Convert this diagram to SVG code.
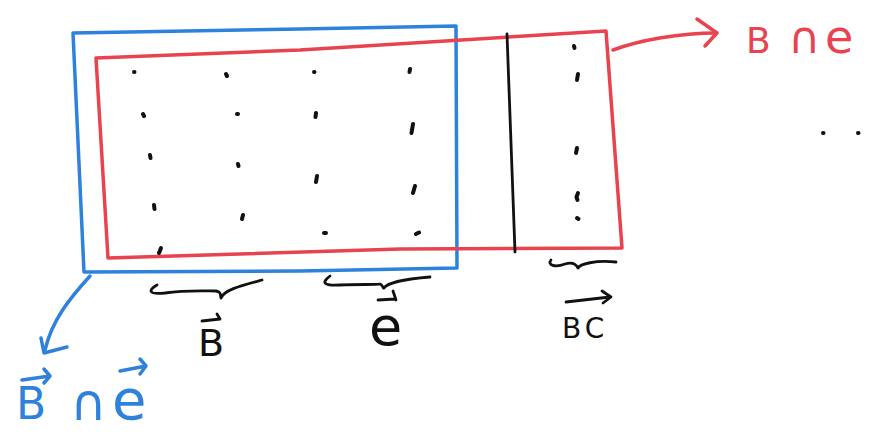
<svg xmlns="http://www.w3.org/2000/svg" width="876" height="435" viewBox="0 0 876 435">
<style>
.blue{fill:none;stroke:#2f82dc;stroke-width:3.5;stroke-linecap:round;stroke-linejoin:round}
.red{fill:none;stroke:#e8434f;stroke-width:3.5;stroke-linecap:round;stroke-linejoin:round}
.ink{fill:none;stroke:#111;stroke-width:2.8;stroke-linecap:round;stroke-linejoin:round}
.dot{fill:none;stroke:#111;stroke-width:4;stroke-linecap:round}
.t{font-family:"DejaVu Sans","Liberation Sans",sans-serif}
.tb{fill:#2f82dc}
.tr{fill:#e8434f}
.tk{fill:#111}
</style>
<rect width="876" height="435" fill="#fff"/>
<g id="blue-set">
<path class="blue" d="M73,33 L300,29 L456,26 L457,268 L300,271 L84,272 Z"/>
</g>
<g id="red-set">
<path class="red" d="M96,58 L300,50 L606,31 L622,248 L400,249 L108,258 Z"/>
</g>
<g id="divider">
<path class="ink" d="M507,34 L515,252"/>
</g>
<g id="dots">
<path class="dot" d="M134,72h0.5 M226,74l1,2 M314,72h0.5 M410,69l-0.5,3 M143,114l1,2 M237,114h1 M316,113l-0.5,4 M413,124l-1.5,9 M150,155l0.5,3 M238,164l0.5,2 M317,176l-1,6 M415,186l-2,7 M154,205l0.5,4 M243,215l-1,4 M324,233h2 M416,234l3,-1.5 M161,248l-2,5"/>
<path class="dot" d="M574,46l0.5,2 M578,74l-1,6 M577,148l-1,5 M578,193l-1.5,4 l1,3 M577,218l1.5,1"/>
<path class="dot" d="M823,133h0.5 M858,133h0.5"/>
</g>
<g id="braces">
<path class="ink" d="M157,285 C148,290 148,295 165,293 C185,290 205,291 216,291 C222,292 220,296 221,298 C224,290 240,286 262,280"/>
<path class="ink" d="M330,276 C322,282 322,286 340,285 C360,284 375,285 380,284 C383,285 383,289 384,288 C387,283 405,279 430,277"/>
<path class="ink" d="M551,260 C547,265 555,268 565,264 C572,262 576,264 578,268 C580,264 595,260 616,262"/>
</g>
<g id="labels">
<text class="t tk" x="198" y="356" font-size="38">B</text>
<path class="ink" d="M202,321 L220,319 M217,314 L220,319"/>
<text class="t tk" x="369" y="345" font-size="54">e</text>
<path class="ink" d="M378,300 L395,299 M393,291 L396,300"/>
<text class="t tk" x="562" y="338" font-size="28" letter-spacing="4">BC</text>
<path class="ink" d="M566,302 L610,297 M602,291 L611,297 L603,303"/>
</g>
<g id="connectors">
<path class="red" d="M613,50 C640,40 680,33 716,33"/>
<path class="red" d="M697,19 L717,33 L705,46"/>
<path class="blue" d="M90,276 C70,298 52,320 45,350"/>
<path class="blue" d="M41,338 L44,353 L67,347"/>
</g>
<g id="red-label">
<text class="t tr" x="746" y="53" font-size="36">B</text>
<text class="t tr" x="788" y="53" font-size="44">∩</text>
<text class="t tr" x="825" y="53" font-size="46">e</text>
</g>
<g id="blue-label">
<text class="t tb" x="16" y="419" font-size="44">B</text>
<text class="t tb" x="70" y="420" font-size="50">∩</text>
<text class="t tb" x="112" y="419" font-size="56">e</text>
<path class="blue" d="M22,380 L50,376 M44,369 L50,376 L44,383"/>
<path class="blue" d="M120,371 L146,366 M140,359 L146,366 L140,374"/>
</g>
</svg>
